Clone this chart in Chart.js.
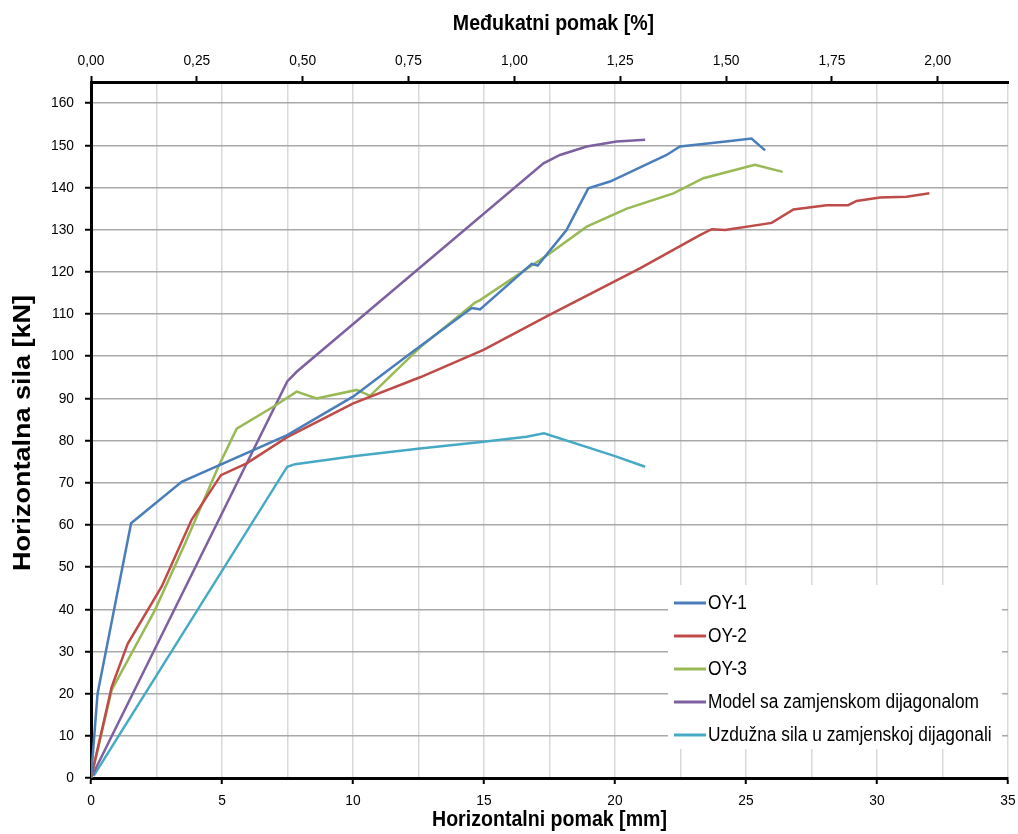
<!DOCTYPE html>
<html>
<head>
<meta charset="utf-8">
<script src="https://cdn.jsdelivr.net/npm/chart.js@4/dist/chart.umd.min.js"></script>
<style>
  html, body { margin: 0; padding: 0; background: #fff; }
  #wrap { width: 1018px; height: 834px; position: relative; }
</style>
</head>
<body>
<div id="wrap"><canvas id="chart"></canvas></div>
<script>
// story height used for the top axis (drift in %)
var storyHeight = 1616;

var labels = ['OY-1', 'OY-2', 'OY-3', 'Model sa zamjenskom dijagonalom', 'Uzdužna sila u zamjenskoj dijagonali'];
var colors = ['#4A7EBB', '#BE4B48', '#98B954', '#7D60A0', '#46AAC5'];

// OY-1
var oy1X = [0, 0.25, 1.53, 3.46, 7.49, 10.0, 12.2, 14.53, 14.85, 16.82, 17.05, 18.15, 18.98, 19.81, 21.97, 22.48, 24.4, 25.21, 25.73];
var oy1Y = [0, 20, 60.4, 70.2, 81.3, 90.4, 100.7, 111.4, 111.1, 121.9, 121.5, 129.9, 139.8, 141.4, 147.7, 149.7, 151.0, 151.6, 148.8];
// OY-2
var oy2X = [0, 0.79, 1.4, 2.7, 3.84, 4.96, 5.94, 7.49, 10.01, 12.56, 14.98, 17.5, 20.95, 23.24, 23.69, 24.2, 25.98, 26.81, 28.08, 28.9, 29.22, 30.11, 31.13, 32.0];
var oy2Y = [0, 21.6, 31.8, 45.4, 61.2, 71.8, 74.6, 80.8, 88.8, 95.0, 101.5, 109.8, 120.8, 128.7, 130.1, 129.9, 131.6, 134.8, 135.8, 135.8, 136.8, 137.6, 137.8, 138.6];
// OY-3
var oy3X = [0, 0.79, 2.44, 3.59, 4.86, 5.56, 6.96, 7.85, 8.61, 10.14, 10.65, 12.56, 14.66, 14.85, 17.52, 18.92, 20.45, 22.23, 23.37, 25.34, 26.4];
var oy3Y = [0, 20.9, 39.8, 55.6, 73.8, 82.8, 88.0, 91.6, 90.0, 92.0, 90.6, 102.1, 112.7, 113.3, 124.4, 130.7, 135.0, 138.6, 142.2, 145.4, 143.7];
// Model sa zamjenskom dijagonalom
var modelX = [0, 7.49, 7.85, 17.27, 17.9, 18.92, 20.06, 21.15];
var modelY = [0, 94.0, 96.3, 145.7, 147.7, 149.7, 150.9, 151.3];
// Uzduzna sila u zamjenskoj dijagonali
var diagX = [0.1, 7.49, 7.79, 10.01, 12.56, 14.98, 16.62, 17.29, 20.0, 21.15];
var diagY = [0.5, 73.8, 74.4, 76.3, 78.1, 79.7, 80.9, 81.7, 76.3, 73.8];
// small orange stub at the origin
var stubX = [0, 0.05];
var stubY = [0, 3];

// axis ticks
var xTicks = [0, 2.5, 5, 7.5, 10, 12.5, 15, 17.5, 20, 22.5, 25, 27.5, 30, 32.5, 35];
var xLabelStep = 5;
var driftTicks = [0, 0.25, 0.5, 0.75, 1.0, 1.25, 1.5, 1.75, 2.0];
var yTicks = [0, 10, 20, 30, 40, 50, 60, 70, 80, 90, 100, 110, 120, 130, 140, 150, 160];

var font = "'Liberation Sans', Arial, sans-serif";
var squeeze = 0.89;   // the original text is horizontally condensed

function pts(xs, ys) {
    var out = [];
    for (var i = 0; i < xs.length; i++) {
        out.push({x: xs[i], y: ys[i]});
    }
    return out;
}

function makeSet(label, xs, ys, color) {
    return {
        label: label,
        data: pts(xs, ys),
        borderColor: color,
        backgroundColor: color,
        borderWidth: 2.5,
        pointRadius: 0,
        tension: 0,
        fill: false,
        xAxisID: 'x',
        yAxisID: 'y'
    };
}

var datasets = [
    makeSet(labels[0], oy1X, oy1Y, colors[0]),
    makeSet(labels[1], oy2X, oy2Y, colors[1]),
    makeSet(labels[2], oy3X, oy3Y, colors[2]),
    makeSet(labels[3], modelX, modelY, colors[3]),
    makeSet(labels[4], diagX, diagY, colors[4]),
    makeSet('', stubX, stubY, '#F79646')
];

function onStep(v, step) {
    return Math.abs(v / step - Math.round(v / step)) < 1e-6;
}

function tickList(values) {
    return function (s) {
        s.ticks = values.map(function (v) { return {value: v}; });
    };
}

function narrowText(ctx, text, x, y, align) {
    ctx.save();
    ctx.translate(x, y);
    ctx.scale(squeeze, 1);
    ctx.textAlign = align;
    ctx.fillText(text, 0, 0);
    ctx.restore();
}

// tick labels, axis titles and legend, drawn condensed like the original
var narrowLabels = {
    id: 'narrowLabels',
    afterDatasetsDraw: function (chart) {
        var ctx = chart.ctx;
        var area = chart.chartArea;
        var sx = chart.scales.x, sx2 = chart.scales.x2, sy = chart.scales.y;
        ctx.save();
        ctx.fillStyle = '#000';
        ctx.textBaseline = 'middle';

        ctx.font = '15.5px ' + font;
        sx.ticks.forEach(function (t) {
            if (onStep(t.value, xLabelStep)) narrowText(ctx, String(t.value), sx.getPixelForValue(t.value), 801, 'center');
        });
        sx2.ticks.forEach(function (t) {
            narrowText(ctx, t.value.toFixed(2).replace('.', ','), sx2.getPixelForValue(t.value), 61, 'center');
        });
        sy.ticks.forEach(function (t) {
            narrowText(ctx, String(t.value), 74, sy.getPixelForValue(t.value), 'right');
        });

        ctx.font = 'bold 22px ' + font;
        narrowText(ctx, 'Horizontalni pomak [mm]', (area.left + area.right) / 2, 820, 'center');
        narrowText(ctx, 'Međukatni pomak [%]', (area.left + area.right) / 2 + 4, 24, 'center');

        ctx.save();
        ctx.font = 'bold 27px ' + font;
        ctx.translate(23, (area.top + area.bottom) / 2 + 3);
        ctx.rotate(-Math.PI / 2);
        ctx.scale(1, squeeze);
        ctx.textAlign = 'center';
        ctx.fillText('Horizontalna sila [kN]', 0, 0);
        ctx.restore();

        // legend box
        ctx.fillStyle = '#fff';
        ctx.fillRect(668, 585, 334, 164);
        ctx.font = '19.5px ' + font;
        for (var i = 0; i < 5; i++) {
            var ds = chart.data.datasets[i];
            var y = 603 + i * 33;
            ctx.strokeStyle = ds.borderColor;
            ctx.lineWidth = 3;
            ctx.beginPath();
            ctx.moveTo(674, y);
            ctx.lineTo(706, y);
            ctx.stroke();
            ctx.fillStyle = '#000';
            narrowText(ctx, ds.label, 708, y + 1, 'left');
        }
        ctx.restore();
    }
};

var chart = new Chart(document.getElementById('chart'), {
    type: 'line',
    data: {datasets: datasets},
    plugins: [narrowLabels],
    options: {
        responsive: true,
        maintainAspectRatio: false,
        animation: false,
        layout: {padding: {left: 0, right: 10, top: 0, bottom: 0}},
        plugins: {
            legend: {display: false},
            tooltip: {enabled: false}
        },
        scales: {
            x: {
                type: 'linear',
                position: 'bottom',
                min: 0,
                max: 35,
                afterFit: function (s) { s.height = 56; },
                afterBuildTicks: tickList(xTicks),
                ticks: {display: false, autoSkip: false},
                grid: {
                    color: '#d9d9d9',
                    lineWidth: 1.5,
                    tickLength: 6,
                    tickWidth: 2,
                    tickColor: function (c) { return (c.tick && onStep(c.tick.value, xLabelStep)) ? '#000' : 'rgba(0,0,0,0)'; }
                },
                border: {color: '#000', width: 3}
            },
            x2: {
                type: 'linear',
                position: 'top',
                min: 0,
                max: 35 * 100 / storyHeight,
                afterFit: function (s) { s.height = 82; },
                afterBuildTicks: tickList(driftTicks),
                ticks: {display: false, autoSkip: false},
                grid: {
                    drawOnChartArea: false,
                    tickLength: 6,
                    tickWidth: 2,
                    tickColor: '#000'
                },
                border: {color: '#000', width: 3}
            },
            y: {
                type: 'linear',
                min: 0,
                max: 165,
                afterFit: function (s) { s.width = 91; },
                afterBuildTicks: tickList(yTicks),
                ticks: {display: false, autoSkip: false},
                grid: {
                    color: '#a9a9a9',
                    lineWidth: 1.5,
                    tickLength: 6,
                    tickWidth: 2,
                    tickColor: '#000'
                },
                border: {color: '#000', width: 3}
            }
        }
    }
});
</script>
</body>
</html>
